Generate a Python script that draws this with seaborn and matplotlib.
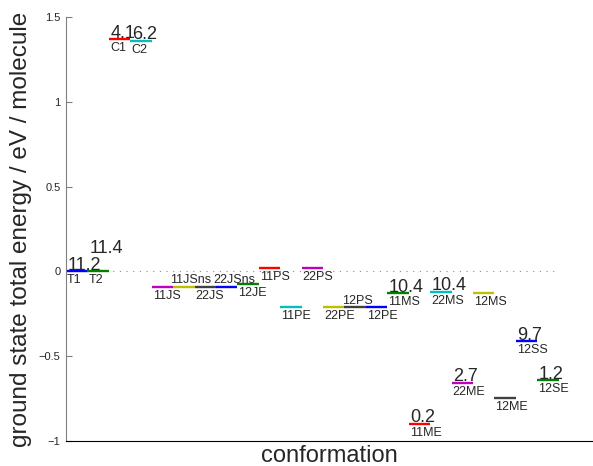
import numpy as np
import pandas as pd
import seaborn as sns
import matplotlib.pyplot as plt

sns.set_style("ticks")
plt.rcParams['font.family'] = ['Liberation Sans', 'DejaVu Sans']

# conformations in plotting order, with ground state energies (eV / molecule)
names = ["T1", "T2", "C1", "C2", "11JS", "11JSns", "22JS", "22JSns", "12JE",
         "11PS", "11PE", "22PS", "22PE", "12PS", "12PE", "11MS", "11ME",
         "22MS", "22ME", "12MS", "12ME", "12SS", "12SE"]
energies = [0.0, 0.0, 1.37, 1.36, -0.09, -0.09, -0.09, -0.09, -0.072,
            0.018, -0.21, 0.018, -0.21, -0.21, -0.21, -0.129, -0.898,
            -0.12, -0.656, -0.129, -0.748, -0.41, -0.64]
# numbers written above some of the levels
numbers = {"T1": "11.2", "T2": "11.4", "C1": "4.1", "C2": "6.2",
           "11MS": "10.4", "22MS": "10.4", "11ME": "0.2", "22ME": "2.7",
           "12SS": "9.7", "12SE": "1.2"}
# labels that sit above their level instead of below
labels_above = ["11JSns", "22JSns", "12PS"]
yticks = [-1, -0.5, 0, 0.5, 1, 1.5]
yticklabels = ["\u22121", "\u22120.5", "0", "0.5", "1", "1.5"]

matlab_order = [(0, 0, 1), (0, 0.5, 0), (1, 0, 0), (0, 0.75, 0.75),
                (0.75, 0, 0.75), (0.75, 0.75, 0), (0.25, 0.25, 0.25)]
palette = {n: matlab_order[i % 7] for i, n in enumerate(names)}

rows = []
for i, (n, e) in enumerate(zip(names, energies)):
    rows.append({"name": n, "x": i, "E": e})
    rows.append({"name": n, "x": i + 1, "E": e})
df = pd.DataFrame(rows)

fig = plt.figure(figsize=(5.93, 4.66), dpi=100)
ax = fig.add_axes([0.1113, 0.0536, 0.8887, 0.9099])

# zero reference
ax.plot([0, len(names)], [0, 0], ls=(0, (1, 5)), color="0.55", lw=0.8)

sns.lineplot(data=df, x="x", y="E", hue="name", palette=palette,
             estimator=None, sort=False, legend=False, lw=1.7, ax=ax)
for line in ax.get_lines()[1:]:
    line.set_solid_capstyle("butt")

for i, (n, e) in enumerate(zip(names, energies)):
    if n in labels_above:
        ax.text(i - 0.12, e + 0.02, n, fontsize=9, ha="left", va="baseline")
    else:
        ax.text(i + 0.05, e - 0.018, n, fontsize=9, ha="left", va="top")
    if n in numbers:
        dy = 0.11 if n == "T2" else 0.008
        ax.text(i + 0.08, e + dy, numbers[n], fontsize=13, ha="left",
                va="baseline")

ax.set_xlim(0, 24.6)
ax.set_ylim(-1, 1.5)
ax.set_xticks([])
ax.set_yticks(yticks)
ax.set_yticklabels(yticklabels)
ax.tick_params(axis="y", direction="in", length=4, labelsize=8, pad=4,
               color="0.5")
ax.set_xlabel("conformation", fontsize=17, labelpad=3)
ax.set_ylabel("ground state total energy / eV / molecule", fontsize=17.5,
              labelpad=5)
sns.despine(ax=ax)
ax.spines["left"].set_color("0.5")
ax.spines["bottom"].set_color("black")

fig.savefig("out.png", dpi=100)
